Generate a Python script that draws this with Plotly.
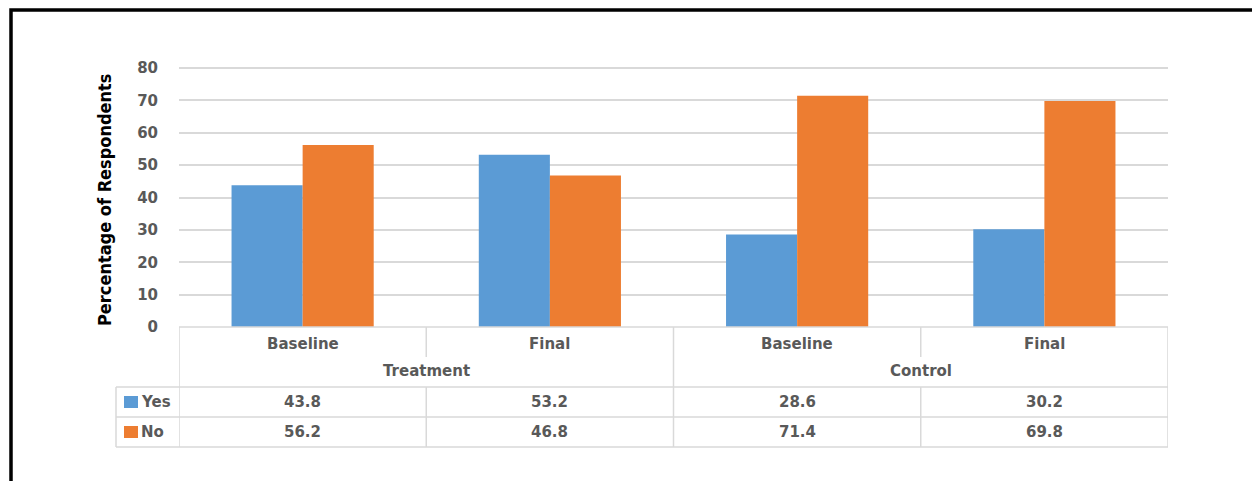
import plotly.graph_objects as go

# ---- data ----
groups = ["Treatment", "Control"]
phases = ["Baseline", "Final", "Baseline", "Final"]
yes_vals = [43.8, 53.2, 28.6, 30.2]
no_vals = [56.2, 46.8, 71.4, 69.8]
series_names = ["Yes", "No"]
y_title = "Percentage of Respondents"
y_ticks = [0, 10, 20, 30, 40, 50, 60, 70, 80]

W, H = 1252, 481
BLUE = "#5B9BD5"
ORANGE = "#ED7D31"
GRID = "#D9D9D9"
TXT = "#595959"
FONT = "DejaVu Sans"

def px(x):
    return x / W

def py(y):
    return 1 - y / H

Y_MAX = 80.5
plot_l, plot_r, plot_b = 179, 1168, 327
unit = (327 - 68) / 80.0
plot_t = plot_b - Y_MAX * unit
xs = list(range(len(phases)))

fig = go.Figure()
fig.add_trace(go.Bar(x=xs, y=yes_vals, name=series_names[0], marker_color=BLUE,
                     marker_line_width=0))
fig.add_trace(go.Bar(x=xs, y=no_vals, name=series_names[1], marker_color=ORANGE,
                     marker_line_width=0))

shapes = []
ann = []

def hline(y, x0, x1):
    shapes.append(dict(type="line", xref="paper", yref="paper", x0=px(x0), x1=px(x1),
                       y0=py(y), y1=py(y), line=dict(color=GRID, width=1.5)))

def vline_data(x, y0, y1):
    shapes.append(dict(type="line", xref="x", yref="paper", x0=x, x1=x,
                       y0=py(y0), y1=py(y1), line=dict(color=GRID, width=1.5)))

# table horizontal lines
hline(plot_b, plot_l, plot_r)
hline(387, 116, plot_r)
hline(417, 116, plot_r)
hline(447, 116, plot_r)
# outer verticals
vline_data(-0.5, plot_b, 447)
vline_data(3.5, plot_b, 447)
shapes.append(dict(type="line", xref="paper", yref="paper", x0=px(116), x1=px(116),
                   y0=py(387), y1=py(447), line=dict(color=GRID, width=1.5)))
# inner verticals
n_per_group = len(phases) // len(groups)
for i in range(1, len(phases)):
    if i % n_per_group == 0:
        vline_data(i - 0.5, plot_b, 447)
    else:
        vline_data(i - 0.5, plot_b, 357)
        vline_data(i - 0.5, 387, 447)

cell_font = dict(family=FONT, size=15, color=TXT, weight="bold")
# phase labels
for i, p in enumerate(phases):
    ann.append(dict(x=i, y=py(344), xref="x", yref="paper", text=p, showarrow=False,
                    font=cell_font, xanchor="center", yanchor="middle"))
# group labels
for g, name in enumerate(groups):
    center = g * n_per_group + (n_per_group - 1) / 2
    ann.append(dict(x=center, y=py(371), xref="x", yref="paper", text=name, showarrow=False,
                    font=cell_font, xanchor="center", yanchor="middle"))
# values
for row_y, vals in [(402, yes_vals), (432, no_vals)]:
    for i, v in enumerate(vals):
        ann.append(dict(x=i, y=py(row_y), xref="x", yref="paper", text=f"{v:.1f}",
                        showarrow=False, font=cell_font, xanchor="center", yanchor="middle"))
# legend keys
for row_y, name, col in [(402, series_names[0], BLUE), (432, series_names[1], ORANGE)]:
    shapes.append(dict(type="rect", xref="paper", yref="paper", x0=px(124), x1=px(138),
                       y0=py(row_y + 6), y1=py(row_y - 6), fillcolor=col, line_width=0))
    ann.append(dict(x=px(139), y=py(row_y), xref="paper", yref="paper", text=name,
                    showarrow=False, font=cell_font, xanchor="left", yanchor="middle"))

# y axis title
ann.append(dict(x=px(104), y=py(200), xref="paper", yref="paper", text=y_title,
                textangle=-90, showarrow=False,
                font=dict(family="DejaVu Sans Condensed, DejaVu Sans, sans-serif",
                          size=18, color="#000000", weight="bold"),
                xanchor="center", yanchor="middle"))

# black frame (top and left)
shapes.append(dict(type="path", xref="paper", yref="paper",
                   path=f"M {px(11)},{py(490)} L {px(11)},{py(10)} L {px(1260)},{py(10)}",
                   line=dict(color="#000000", width=3.5)))

fig.update_layout(
    width=W, height=H,
    margin=dict(l=0, r=0, t=0, b=0, autoexpand=False),
    paper_bgcolor="white", plot_bgcolor="white",
    showlegend=False,
    barmode="group", bargap=0.425, bargroupgap=0,
    shapes=shapes, annotations=ann,
    xaxis=dict(domain=[px(plot_l), px(plot_r)], range=[-0.5, 3.5], showticklabels=False,
               showgrid=False, zeroline=False, showline=False, ticks="", automargin=False),
    yaxis=dict(domain=[py(plot_b), py(plot_t)], range=[0, Y_MAX], tickvals=y_ticks,
               showgrid=True, gridcolor=GRID, gridwidth=1.5, zeroline=False, showline=False,
               ticks="", ticklabelstandoff=20, automargin=False,
               tickfont=dict(family=FONT, size=15, color=TXT, weight="bold")),
)

fig.write_html("out.html")
